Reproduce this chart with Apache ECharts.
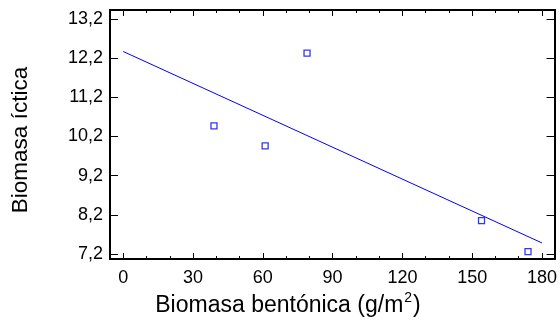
<!DOCTYPE html>
<html>
<head>
<meta charset="utf-8">
<script src="https://cdn.jsdelivr.net/npm/echarts@6/dist/echarts.min.js"></script>
<style>html,body{margin:0;padding:0;background:#fff;}#c{width:560px;height:320px;}</style>
</head>
<body>
<div id="c"></div>
<script>
const benthic = [39, 61, 79, 154, 174];
const fish = [10.47, 9.96, 12.33, 8.05, 7.26];
const fitX = [0, 180];
const fitY = [12.37, 7.48];
const xTicks = [0, 30, 60, 90, 120, 150, 180];
const xMinorTicks = [0, 10, 20, 30, 40, 50, 60, 70, 80, 90, 100, 110, 120, 130, 140, 150, 160, 170, 180];
const yTicks = [7.2, 8.2, 9.2, 10.2, 11.2, 12.2, 13.2];
const xTitle = 'Biomasa bentónica (g/m{sup|2})';
const yTitle = 'Biomasa íctica';

const FONT = 'Liberation Sans, Arial, sans-serif';
const XMIN = -5.7, XMAX = 185.4, YMIN = 7.07, YMAX = 13.43;
const blue = '#0000ff';

function xa(pos, ticks, len, labels) {
  return {
    type: 'value', position: pos, min: XMIN, max: XMAX,
    axisLine: {show: true, onZero: false, lineStyle: {color: '#000', width: 2}},
    axisTick: {show: true, inside: true, length: len, customValues: ticks, lineStyle: {color: '#000', width: 1}},
    axisLabel: labels ? {show: true, customValues: xTicks, fontFamily: FONT, fontSize: 18, color: '#000', margin: 10} : {show: false},
    splitLine: {show: false}
  };
}
function ya(pos, labels) {
  return {
    type: 'value', position: pos, min: YMIN, max: YMAX,
    axisLine: {show: true, onZero: false, lineStyle: {color: '#000', width: 2}},
    axisTick: {show: true, inside: true, length: 8, customValues: yTicks, lineStyle: {color: '#000', width: 1}},
    axisLabel: labels ? {show: true, customValues: yTicks, fontFamily: FONT, fontSize: 18, color: '#000', margin: 7,
      formatter: v => v.toFixed(1).replace('.', ',')} : {show: false},
    splitLine: {show: false}
  };
}

const chart = echarts.init(document.getElementById('c'), null, {renderer: 'canvas'});
chart.setOption({
  animation: false,
  backgroundColor: '#fff',
  grid: {left: 110, top: 10, right: 4, bottom: 61, containLabel: false},
  xAxis: [
    xa('bottom', xTicks, 6, true),
    xa('bottom', xMinorTicks, 3, false),
    xa('top', xTicks, 6, false),
    xa('top', xMinorTicks, 3, false)
  ],
  yAxis: [ya('left', true), ya('right', false)],
  series: [
    {
      type: 'line', xAxisIndex: 0, yAxisIndex: 0,
      data: fitX.map((x, i) => [x, fitY[i]]),
      showSymbol: false, symbol: 'none',
      lineStyle: {color: blue, width: 1}
    },
    {
      type: 'scatter', xAxisIndex: 0, yAxisIndex: 0,
      data: benthic.map((x, i) => [x, fish[i]]),
      symbol: 'rect', symbolSize: 6,
      itemStyle: {color: '#fff', borderColor: blue, borderWidth: 1.3}
    }
  ],
  graphic: [
    {
      type: 'text', x: 288, y: 306,
      style: {
        text: xTitle, fontFamily: FONT, fontSize: 23, fill: '#000',
        align: 'center', verticalAlign: 'middle',
        rich: {sup: {fontFamily: FONT, fontSize: 14, fill: '#000', verticalAlign: 'bottom', padding: [0, 1, 15, 1]}}
      }
    },
    {
      type: 'text', x: 21, y: 140, rotation: Math.PI / 2,
      style: {
        text: yTitle, fontFamily: FONT, fontSize: 22.5, fill: '#000',
        align: 'center', verticalAlign: 'middle'
      }
    }
  ]
});
</script>
</body>
</html>
